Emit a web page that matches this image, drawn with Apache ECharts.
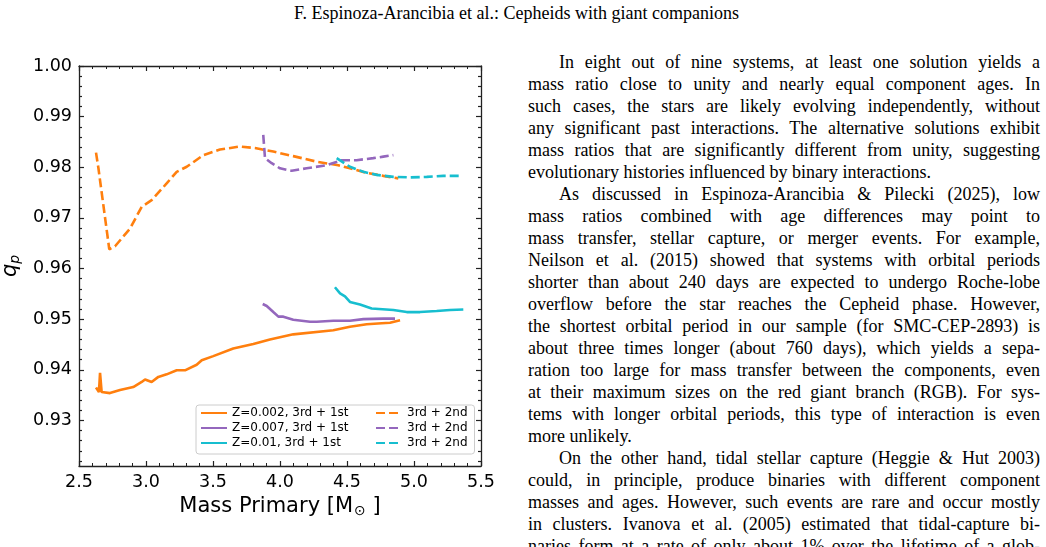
<!DOCTYPE html>
<html>
<head>
<meta charset="utf-8">
<script src="https://cdn.jsdelivr.net/npm/echarts@6/dist/echarts.min.js"></script>
<style>
  html, body { margin: 0; padding: 0; background: #fff; }
  #page { position: relative; width: 1046px; height: 547px; overflow: hidden; }
  #main { position: absolute; left: 0; top: 0; width: 520px; height: 547px; }
  .serif { font-family: "Liberation Serif", "DejaVu Serif", serif; color: #000; font-size: 18px; }
  #head { position: absolute; top: 3px; right: 307px; white-space: nowrap; text-align: right; }
  #text { position: absolute; left: 528px; top: 51px; width: 512px; line-height: 22px; }
  .j { text-align: justify; text-align-last: justify; white-space: nowrap; height: 22px; }
  .l { text-align: left; text-align-last: left; }
  .i { padding-left: 31px; }
</style>
</head>
<body>
<div id="page">
  <div id="head" class="serif">F. Espinoza-Arancibia et al.: Cepheids with giant companions</div>
  <div id="main"></div>
  <div id="text" class="serif"></div>
</div>
<script>
// running text of the page, one entry per printed line
const textLines = [
  ['i', 'In eight out of nine systems, at least one solution yields a'],
  ['', 'mass ratio close to unity and nearly equal component ages. In'],
  ['', 'such cases, the stars are likely evolving independently, without'],
  ['', 'any significant past interactions. The alternative solutions exhibit'],
  ['', 'mass ratios that are significantly different from unity, suggesting'],
  ['l', 'evolutionary histories influenced by binary interactions.'],
  ['i', 'As discussed in Espinoza-Arancibia & Pilecki (2025), low'],
  ['', 'mass ratios combined with age differences may point to'],
  ['', 'mass transfer, stellar capture, or merger events. For example,'],
  ['', 'Neilson et al. (2015) showed that systems with orbital periods'],
  ['', 'shorter than about 240 days are expected to undergo Roche-lobe'],
  ['', 'overflow before the star reaches the Cepheid phase. However,'],
  ['', 'the shortest orbital period in our sample (for SMC-CEP-2893) is'],
  ['', 'about three times longer (about 760 days), which yields a sepa-'],
  ['', 'ration too large for mass transfer between the components, even'],
  ['', 'at their maximum sizes on the red giant branch (RGB). For sys-'],
  ['', 'tems with longer orbital periods, this type of interaction is even'],
  ['l', 'more unlikely.'],
  ['i', 'On the other hand, tidal stellar capture (Heggie & Hut 2003)'],
  ['', 'could, in principle, produce binaries with different component'],
  ['', 'masses and ages. However, such events are rare and occur mostly'],
  ['', 'in clusters. Ivanova et al. (2005) estimated that tidal-capture bi-'],
  ['', 'naries form at a rate of only about 1% over the lifetime of a glob-']
];

// q_p vs primary mass
const z002FirstMass = [2.627, 2.649, 2.657, 2.669, 2.731, 2.806, 2.905, 2.968, 2.993, 3.042, 3.092, 3.154, 3.229, 3.291, 3.378, 3.416, 3.502, 3.651, 3.801, 3.925, 4.099, 4.398, 4.522, 4.647, 4.759, 4.821, 4.896];
const z002FirstQ = [0.9365, 0.9356, 0.9394, 0.9356, 0.9354, 0.9360, 0.9366, 0.9376, 0.9381, 0.9376, 0.9386, 0.9391, 0.9399, 0.9399, 0.9410, 0.9419, 0.9427, 0.9442, 0.9451, 0.9460, 0.9470, 0.9478, 0.9485, 0.9490, 0.9492, 0.9493, 0.9498];

const z002SecondMass = [2.627, 2.645, 2.726, 2.769, 2.881, 2.968, 3.042, 3.154, 3.229, 3.304, 3.428, 3.552, 3.701, 3.813, 3.950, 4.099, 4.274, 4.435, 4.522, 4.647, 4.771, 4.883];
const z002SecondQ = [0.9829, 0.9798, 0.9638, 0.9644, 0.9679, 0.9722, 0.9735, 0.9768, 0.9791, 0.9801, 0.9824, 0.9835, 0.9841, 0.9838, 0.9831, 0.9822, 0.9811, 0.9804, 0.9798, 0.9789, 0.9783, 0.9778];

const z007FirstMass = [3.871, 3.901, 3.950, 3.988, 4.025, 4.099, 4.224, 4.274, 4.398, 4.522, 4.622, 4.771, 4.858];
const z007FirstQ = [0.9530, 0.9526, 0.9514, 0.9505, 0.9505, 0.9499, 0.9495, 0.9495, 0.9497, 0.9497, 0.9500, 0.9501, 0.9501];

const z007SecondMass = [3.875, 3.888, 3.938, 4.000, 4.087, 4.199, 4.348, 4.460, 4.572, 4.696, 4.771, 4.846];
const z007SecondQ = [0.9864, 0.9818, 0.9808, 0.9798, 0.9793, 0.9798, 0.9804, 0.9814, 0.9814, 0.9818, 0.9821, 0.9824];

const z01FirstMass = [4.410, 4.448, 4.485, 4.522, 4.597, 4.684, 4.846, 4.946, 5.045, 5.169, 5.269, 5.368];
const z01FirstQ = [0.9563, 0.9551, 0.9545, 0.9534, 0.9529, 0.9521, 0.9518, 0.9514, 0.9514, 0.9516, 0.9518, 0.9519];

const z01SecondMass = [4.423, 4.522, 4.622, 4.722, 4.846, 4.970, 5.095, 5.219, 5.356];
const z01SecondQ = [0.9818, 0.9801, 0.9791, 0.9785, 0.9781, 0.9780, 0.9781, 0.9783, 0.9783];

const seriesNames = ['Z=0.002, 3rd + 1st', 'Z=0.002, 3rd + 2nd', 'Z=0.007, 3rd + 1st', 'Z=0.007, 3rd + 2nd', 'Z=0.01, 3rd + 1st', 'Z=0.01, 3rd + 2nd'];
const yMajorTicks = [0.93, 0.94, 0.95, 0.96, 0.97, 0.98, 0.99, 1.00];

// fill the text column
const box = document.getElementById('text');
textLines.forEach(function (ln) {
  const d = document.createElement('div');
  d.className = 'j' + (ln[0] ? ' ' + ln[0] : '');
  d.textContent = ln[1];
  box.appendChild(d);
});

function zip(xs, ys) {
  return xs.map(function (x, i) { return [x, ys[i]]; });
}

const colors = ['#ff7f0e', '#9467bd', '#17becf'];
const font = 'DejaVu Sans';

let yMinor = [];
for (let k = 922; k < 1000; k += 2) {
  if (k % 10 !== 0) yMinor.push(k / 1000);
}

const tickCommon = { inside: true, length: 5, lineStyle: { color: '#222', width: 1.2 } };
const lineCommon = { show: true, onZero: false, lineStyle: { color: '#222', width: 1.3 } };

function xAxisOf(pos, labels) {
  return {
    type: 'value', position: pos, min: 2.5, max: 5.5, interval: 0.5,
    axisLine: lineCommon,
    axisTick: tickCommon,
    minorTick: { show: true, splitNumber: 5, length: 3, lineStyle: { color: '#222', width: 1 } },
    splitLine: { show: false },
    axisLabel: { show: labels, margin: 7, color: '#000', fontFamily: font, fontSize: 17.5, formatter: function (v) { return v.toFixed(1); } }
  };
}

function yAxisOf(pos, labels, minor) {
  return {
    type: 'value', position: pos, min: 0.921, max: 1.0,
    axisLine: minor ? { show: false } : lineCommon,
    axisTick: Object.assign({}, tickCommon, { length: minor ? 3 : 5, customValues: minor ? yMinor : yMajorTicks }),
    splitLine: { show: false },
    axisLabel: { show: labels, margin: 7, color: '#000', fontFamily: font, fontSize: 17.5, customValues: yMajorTicks, formatter: function (v) { return v.toFixed(2); } }
  };
}

const xMain = xAxisOf('bottom', true);
xMain.name = '{a|Mass Primary [M}{s|⊙}{a| ]}';
xMain.nameLocation = 'middle';
xMain.nameGap = 24;
xMain.nameTextStyle = {
  rich: {
    a: { fontFamily: font, fontSize: 21, color: '#000' },
    s: { fontFamily: font, fontSize: 14, color: '#000', padding: [10, 0, 0, 1] }
  }
};

const yMain = yAxisOf('left', true, false);
yMain.name = '{q|q}{p|p}';
yMain.nameLocation = 'middle';
yMain.nameRotate = 90;
yMain.nameGap = 56;
yMain.nameTextStyle = {
  rich: {
    q: { fontFamily: font, fontSize: 21, fontStyle: 'italic', color: '#000' },
    p: { fontFamily: font, fontSize: 14, fontStyle: 'italic', color: '#000', padding: [10, 0, 0, 0] }
  }
};

const allData = [
  zip(z002FirstMass, z002FirstQ), zip(z002SecondMass, z002SecondQ),
  zip(z007FirstMass, z007FirstQ), zip(z007SecondMass, z007SecondQ),
  zip(z01FirstMass, z01FirstQ), zip(z01SecondMass, z01SecondQ)
];

const series = allData.map(function (d, i) {
  return {
    name: seriesNames[i],
    type: 'line',
    xAxisIndex: 0,
    yAxisIndex: 0,
    data: d,
    symbol: 'none',
    animation: false,
    color: colors[Math.floor(i / 2)],
    lineStyle: { width: 2.6, color: colors[Math.floor(i / 2)], type: i % 2 ? [9, 4] : 'solid', cap: 'butt' }
  };
});

const legendText = { fontFamily: font, fontSize: 12, color: '#000' };

const option = {
  animation: false,
  grid: { left: 79, top: 66, width: 402, height: 400, outerBoundsMode: 'none', containLabel: false },
  xAxis: [xMain, xAxisOf('top', false)],
  yAxis: [yMain, yAxisOf('right', false, false), yAxisOf('left', false, true), yAxisOf('right', false, true)],
  legend: [
    {
      data: [seriesNames[0], seriesNames[2], seriesNames[4]],
      orient: 'vertical', left: 196, top: 405,
      padding: [2, 126, 5, 4],
      itemWidth: 26, itemHeight: 14, itemGap: 3,
      backgroundColor: 'rgba(255,255,255,0.85)',
      borderColor: '#cccccc', borderWidth: 1, borderRadius: 3,
      itemStyle: { opacity: 0 },
      textStyle: legendText
    },
    {
      data: [seriesNames[1], seriesNames[3], seriesNames[5]],
      orient: 'vertical', left: 375, top: 407, z: 10,
      padding: 0,
      itemWidth: 26, itemHeight: 14, itemGap: 3,
      itemStyle: { opacity: 0 },
      textStyle: legendText,
      formatter: function () { return '3rd + 2nd'; }
    }
  ],
  series: series
};

const myChart = echarts.init(document.getElementById('main'));
myChart.setOption(option);
</script>
</body>
</html>
